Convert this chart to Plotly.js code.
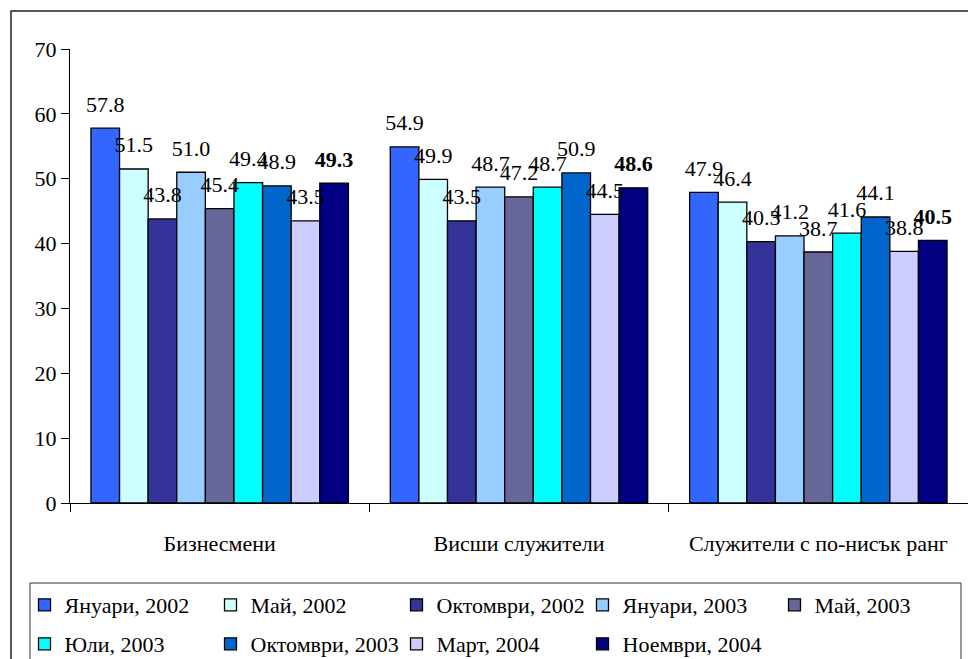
<!DOCTYPE html>
<html>
<head>
<meta charset="utf-8">
<script src="https://cdn.plot.ly/plotly-3.0.1.min.js"></script>
<style>
  html, body { margin: 0; padding: 0; background: #ffffff; }
  #chart { width: 968px; height: 659px; }
</style>
</head>
<body>
<div id="chart"></div>
<script>
// ---- data ----
const categories = ['Бизнесмени', 'Висши служители', 'Служители с по-нисък ранг'];
const seriesNames = ['Януари, 2002', 'Май, 2002', 'Октомври, 2002', 'Януари, 2003', 'Май, 2003',
                     'Юли, 2003', 'Октомври, 2003', 'Март, 2004', 'Ноември, 2004'];
const jan2002 = [57.8, 54.9, 47.9];
const may2002 = [51.5, 49.9, 46.4];
const oct2002 = [43.8, 43.5, 40.3];
const jan2003 = [51.0, 48.7, 41.2];
const may2003 = [45.4, 47.2, 38.7];
const jul2003 = [49.4, 48.7, 41.6];
const oct2003 = [48.9, 50.9, 44.1];
const mar2004 = [43.5, 44.5, 38.8];
const nov2004 = [49.3, 48.6, 40.5];
const seriesValues = [jan2002, may2002, oct2002, jan2003, may2003, jul2003, oct2003, mar2004, nov2004];
const yTicks = [0, 10, 20, 30, 40, 50, 60, 70];

// ---- styles ----
const colors = ['#3366FF', '#CCFFFF', '#333399', '#99CCFF', '#666699',
                '#00FFFF', '#0066CC', '#CCCCFF', '#000080'];
const FONT = 'Liberation Serif';
const FS = 22;
const GAP = 0.14;
const L = 70, T = 49, W = 898, H = 454, FW = 968, FH = 659;
// legend layout (pixel positions of legend columns / rows)
const legendColX = [43.5, 229.5, 415.5, 601.5, 793.5];
const legendRowY = [605, 644];
const PER_ROW = 5;

const legendId = i => (i === 0 ? 'legend' : 'legend' + (i + 1));

const traces = [];
seriesValues.forEach((vals, i) => {
  traces.push({
    type: 'bar',
    name: seriesNames[i],
    x: categories,
    y: vals,
    marker: { color: colors[i], line: { color: '#000000', width: 1.3 } },
    legend: legendId(i),
    hoverinfo: 'none'
  });
});
seriesValues.forEach((vals, i) => {
  traces.push({
    type: 'scatter',
    mode: 'markers+text',
    x: categories,
    y: vals,
    text: vals.map(v => v.toFixed(1)),
    textposition: 'top center',
    textfont: { family: FONT, size: FS, color: '#000000', weight: i === 8 ? 'bold' : 'normal' },
    marker: { size: 16, opacity: 0 },
    cliponaxis: false,
    showlegend: false,
    hoverinfo: 'none'
  });
});

const px = x => (x - L) / W;
const py = y => (T + H - y) / H;

const layout = {
  width: FW,
  height: FH,
  margin: { l: L, r: FW - L - W, t: T, b: FH - T - H, pad: 0 },
  paper_bgcolor: '#ffffff',
  plot_bgcolor: '#ffffff',
  barmode: 'group',
  bargap: GAP,
  bargroupgap: 0,
  scattermode: 'group',
  scattergap: GAP,
  font: { family: FONT, size: FS, color: '#000000' },
  showlegend: true,
  xaxis: {
    type: 'category',
    showline: true, linecolor: '#000000', linewidth: 1,
    ticks: 'outside', tickson: 'boundaries', ticklen: 8, tickcolor: '#000000', tickwidth: 1,
    ticklabelstandoff: 21,
    tickfont: { family: FONT, size: FS, color: '#000000' },
    showgrid: false, zeroline: false, fixedrange: true
  },
  yaxis: {
    range: [0, 70],
    tickmode: 'array', tickvals: yTicks, ticktext: yTicks.map(String),
    showline: true, linecolor: '#000000', linewidth: 1,
    ticks: 'outside', ticklen: 8, tickcolor: '#000000', tickwidth: 1,
    tickfont: { family: FONT, size: FS, color: '#000000' },
    showgrid: false, zeroline: false, fixedrange: true
  },
  shapes: [
    { type: 'rect', xref: 'paper', yref: 'paper', x0: px(11), x1: px(990), y0: py(690), y1: py(11),
      line: { color: '#222222', width: 1.5 }, fillcolor: 'rgba(0,0,0,0)', layer: 'below' },
    { type: 'rect', xref: 'paper', yref: 'paper', x0: px(30), x1: px(961), y0: py(690), y1: py(583),
      line: { color: '#333333', width: 1 }, fillcolor: 'rgba(0,0,0,0)', layer: 'below' }
  ]
};

seriesNames.forEach((nm, i) => {
  const col = i % PER_ROW, row = Math.floor(i / PER_ROW);
  layout[legendId(i)] = {
    orientation: 'h', xref: 'container', yref: 'container',
    x: (legendColX[col] - 19) / FW, xanchor: 'left',
    y: 1 - legendRowY[row] / FH, yanchor: 'middle',
    bgcolor: 'rgba(0,0,0,0)', borderwidth: 0,
    font: { family: FONT, size: FS, color: '#000000' },
    itemclick: false, itemdoubleclick: false
  };
});

Plotly.newPlot('chart', traces, layout, { displayModeBar: false, staticPlot: true });
</script>
</body>
</html>
